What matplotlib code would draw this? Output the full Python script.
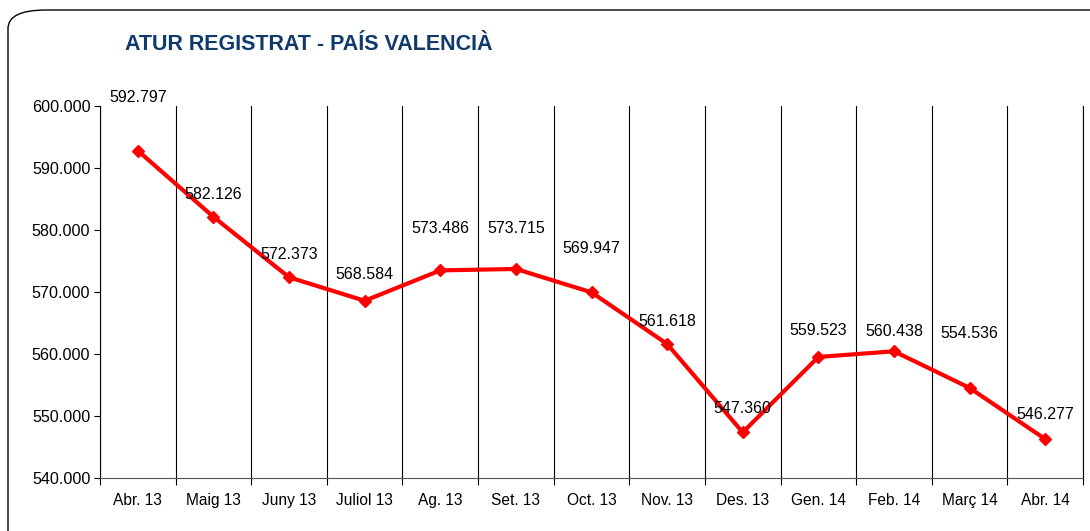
import matplotlib
matplotlib.use("Agg")
import matplotlib.pyplot as plt
from matplotlib.patches import FancyBboxPatch
from matplotlib.ticker import FuncFormatter

months = ["Abr. 13", "Maig 13", "Juny 13", "Juliol 13", "Ag. 13", "Set. 13",
          "Oct. 13", "Nov. 13", "Des. 13", "Gen. 14", "Feb. 14", "Març 14", "Abr. 14"]
atur = [592797, 582126, 572373, 568584, 573486, 573715, 569947,
        561618, 547360, 559523, 560438, 554536, 546277]
# vertical offset of each value label above its point (pixels)
label_dy = [53, 22, 23, 26, 42, 40, 44, 22, 24, 26, 20, 54, 25]

plt.rcParams["font.family"] = ["Liberation Sans", "DejaVu Sans"]


def thousands(v, pos=None):
    return f"{v:,.0f}".replace(",", ".")


fig = plt.figure(figsize=(10.9, 5.31), dpi=100)
W, H = 1090, 531

# rounded frame round the chart (runs off the right and bottom edges)
frame = FancyBboxPatch((8 / W, -20 / H), 1.1, (531 - 10 + 20) / H,
                       boxstyle="round,pad=0,rounding_size=0.035",
                       transform=fig.transFigure, fill=False,
                       edgecolor="black", linewidth=1.0, clip_on=False)
fig.patches.append(frame)

fig.text(125 / W, 1 - 45 / H, "ATUR REGISTRAT - PAÍS VALENCIÀ",
         fontsize=15.5, fontweight="bold", color="#0F3A6B", va="center")

ax = fig.add_axes([100 / W, 1 - 478 / H, (1083 - 100) / W, (478 - 106) / H])
x = range(len(months))
ax.plot(x, atur, color="#FF0000", lw=3, marker="D", ms=6, zorder=3)

for xi, v, dy in zip(x, atur, label_dy):
    ax.annotate(thousands(v), (xi, v), xytext=(0, dy), textcoords="offset pixels",
                ha="center", va="center", fontsize=11.5, color="black")

ax.set_xlim(-0.5, len(months) - 0.5)
ax.set_ylim(540000, 600000)
ax.set_yticks(range(540000, 600001, 10000))
ax.yaxis.set_major_formatter(FuncFormatter(thousands))

ax.set_xticks(list(x))
ax.set_xticklabels(months)
ax.set_xticks([i - 0.5 for i in range(len(months) + 1)], minor=True)
ax.tick_params(axis="x", which="major", length=0, pad=11, labelsize=11.2)
ax.tick_params(axis="x", which="minor", length=5, width=0.8)
ax.tick_params(axis="y", length=4, width=0.8, labelsize=11.6, pad=3)
ax.grid(axis="x", which="minor", color="black", lw=0.8)

ax.spines["top"].set_visible(False)
for s in ("left", "right", "bottom"):
    ax.spines[s].set_linewidth(0.8)
ax.spines["bottom"].set_color("#555555")

fig.savefig("out.png", dpi=100)
